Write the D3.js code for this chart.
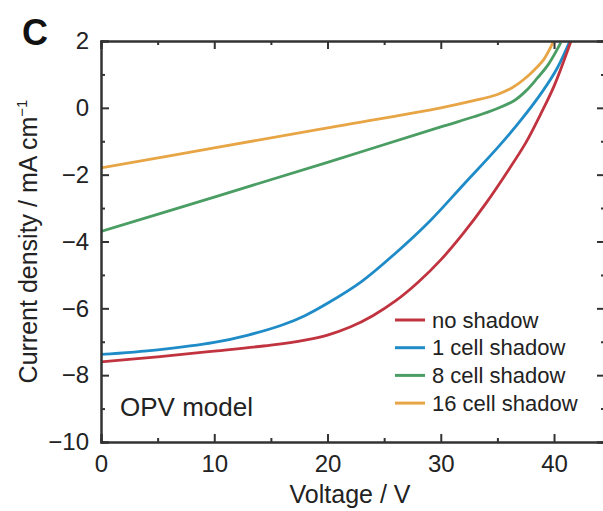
<!DOCTYPE html>
<html>
<head>
<meta charset="utf-8">
<script src="https://cdn.jsdelivr.net/npm/d3@7"></script>
<style>
  body { margin: 0; background: #fff; }
  svg { font-family: "Liberation Sans", Arial, sans-serif; }
</style>
</head>
<body>
<div id="chart"></div>
<script>
// --- Data ---
const seriesNames = ["no shadow", "1 cell shadow", "8 cell shadow", "16 cell shadow"];
const seriesColors = ["#c0333f", "#1f8cc8", "#4a9d63", "#e8a545"];

const noShadowV = [0, 5, 10, 15, 18, 20, 22, 24, 26, 28, 30, 32, 34, 36, 37.5, 38.8, 40, 41.5];
const noShadowJ = [-7.6, -7.45, -7.28, -7.1, -6.95, -6.8, -6.56, -6.22, -5.78, -5.22, -4.55, -3.75, -2.85, -1.85, -1.05, -0.2, 0.65, 2.0];

const oneCellV = [0, 5, 10, 13, 16, 18, 20, 23, 26, 29, 32, 35, 37, 39, 40.3, 41.4];
const oneCellJ = [-7.38, -7.24, -7.02, -6.8, -6.5, -6.22, -5.85, -5.2, -4.35, -3.4, -2.3, -1.2, -0.4, 0.5, 1.2, 2.0];

const eightCellV = [0, 10, 20, 30, 33, 35, 36.5, 37.5, 38.5, 39.5, 40.6];
const eightCellJ = [-3.7, -2.67, -1.63, -0.57, -0.26, -0.02, 0.22, 0.5, 0.88, 1.3, 1.95];

const sixteenCellV = [0, 10, 20, 30, 33, 35, 36.3, 37.3, 38.3, 39.1, 39.9];
const sixteenCellJ = [-1.8, -1.2, -0.6, 0.0, 0.22, 0.4, 0.6, 0.84, 1.15, 1.45, 1.95];

const xTicks = [0, 10, 20, 30, 40];
const xMinor = [5, 15, 25, 35];
const yTicks = [2, 0, -2, -4, -6, -8, -10];
const yMinor = [1, -1, -3, -5, -7, -9];

const series = [
    { name: seriesNames[0], color: seriesColors[0], v: noShadowV, j: noShadowJ },
    { name: seriesNames[1], color: seriesColors[1], v: oneCellV, j: oneCellJ },
    { name: seriesNames[2], color: seriesColors[2], v: eightCellV, j: eightCellJ },
    { name: seriesNames[3], color: seriesColors[3], v: sixteenCellV, j: sixteenCellJ }
];

// --- Layout ---
const width = 603, height = 511;
const plotLeft = 101, plotRight = 605, plotTop = 41, plotBottom = 442;

const svg = d3.select("#chart").append("svg")
    .attr("width", width)
    .attr("height", height);

const x = d3.scaleLinear().domain([0, 44.5]).range([plotLeft, plotRight]);
const y = d3.scaleLinear().domain([-10, 2]).range([plotBottom, plotTop]);

svg.append("defs").append("clipPath").attr("id", "plot")
    .append("rect").attr("x", plotLeft).attr("y", plotTop)
    .attr("width", plotRight - plotLeft).attr("height", plotBottom - plotTop);

// Curves (drawn back to front: orange, green, blue, red)
const line = d3.line()
    .x(d => x(d[0]))
    .y(d => y(d[1]))
    .curve(d3.curveCatmullRom.alpha(0.5));

svg.append("g")
    .attr("clip-path", "url(#plot)")
    .selectAll("path")
    .data(series.slice().reverse())
    .join("path")
    .attr("fill", "none")
    .attr("stroke", d => d.color)
    .attr("stroke-width", 2.8)
    .attr("d", d => line(d.v.map((v, i) => [v, d.j[i]])));

// Axes — ticks pointing inward, on all four sides
const axisColor = "#333";
const major = 8, minor = 4;

function styleAxis(g) {
    g.select(".domain").attr("stroke", axisColor).attr("stroke-width", 2);
    g.selectAll(".tick line").attr("stroke", axisColor).attr("stroke-width", 2);
    g.selectAll("text").attr("fill", "#222").attr("font-size", 24);
}

const fmt = d => d < 0 ? "\u2212" + Math.abs(d) : String(d);

svg.append("g")
    .attr("transform", `translate(0,${plotBottom})`)
    .call(d3.axisBottom(x).tickValues(xTicks).tickSize(-major).tickPadding(13).tickFormat(fmt))
    .call(styleAxis);
svg.append("g")
    .attr("transform", `translate(0,${plotBottom})`)
    .call(d3.axisBottom(x).tickValues(xMinor).tickSize(-minor).tickFormat(""))
    .call(styleAxis);

svg.append("g")
    .attr("transform", `translate(0,${plotTop})`)
    .call(d3.axisTop(x).tickValues(xTicks).tickSize(-major).tickFormat(""))
    .call(styleAxis);
svg.append("g")
    .attr("transform", `translate(0,${plotTop})`)
    .call(d3.axisTop(x).tickValues(xMinor).tickSize(-minor).tickFormat(""))
    .call(styleAxis);

svg.append("g")
    .attr("transform", `translate(${plotLeft},0)`)
    .call(d3.axisLeft(y).tickValues(yTicks).tickSize(-major).tickPadding(12).tickFormat(fmt))
    .call(styleAxis);
svg.append("g")
    .attr("transform", `translate(${plotLeft},0)`)
    .call(d3.axisLeft(y).tickValues(yMinor).tickSize(-minor).tickFormat(""))
    .call(styleAxis);

svg.append("g")
    .attr("transform", `translate(${plotRight},0)`)
    .call(d3.axisRight(y).tickValues(yTicks).tickSize(-major).tickFormat(""))
    .call(styleAxis);
svg.append("g")
    .attr("transform", `translate(${plotRight},0)`)
    .call(d3.axisRight(y).tickValues(yMinor).tickSize(-minor).tickFormat(""))
    .call(styleAxis);

// Titles
svg.append("text")
    .attr("x", 22).attr("y", 45)
    .attr("font-size", 36).attr("font-weight", "bold").attr("fill", "#111")
    .text("C");

const yTitle = svg.append("text")
    .attr("transform", `translate(37,${(plotTop + plotBottom) / 2}) rotate(-90)`)
    .attr("text-anchor", "middle")
    .attr("font-size", 25).attr("fill", "#222");
yTitle.append("tspan").text("Current density / mA cm");
yTitle.append("tspan").attr("dy", -10).attr("font-size", 15).text("\u22121");

svg.append("text")
    .attr("x", 350).attr("y", 503)
    .attr("text-anchor", "middle")
    .attr("font-size", 25).attr("fill", "#222")
    .text("Voltage / V");

svg.append("text")
    .attr("x", 120).attr("y", 416)
    .attr("font-size", 26).attr("fill", "#222")
    .text("OPV model");

// Legend
const legend = svg.append("g")
    .selectAll("g")
    .data(series)
    .join("g")
    .attr("transform", (d, i) => `translate(395,${320 + i * 27.7})`);

legend.append("line")
    .attr("x1", 0).attr("x2", 30)
    .attr("stroke", d => d.color)
    .attr("stroke-width", 3);

legend.append("text")
    .attr("x", 37).attr("dy", "0.35em")
    .attr("font-size", 22).attr("fill", "#222")
    .text(d => d.name);
</script>
</body>
</html>
